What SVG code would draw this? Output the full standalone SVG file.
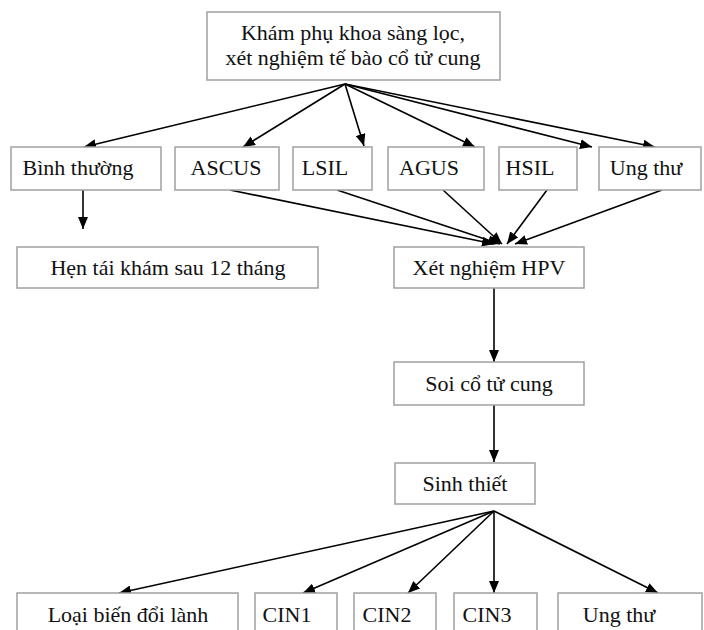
<svg xmlns="http://www.w3.org/2000/svg" width="704" height="630" viewBox="0 0 704 630">
<defs>
<marker id="ah" viewBox="0 0 12 10" refX="12" refY="5" markerWidth="12" markerHeight="10" markerUnits="userSpaceOnUse" orient="auto">
<path d="M0,0 L12,5 L0,10 z" fill="#000"/>
</marker>
<style>
.box{fill:#fff;stroke:#a0a0a0;stroke-width:1.5}
.t{font-family:"Liberation Serif","Times New Roman",serif;font-size:22px;fill:#111;text-anchor:middle}
.c{stroke:#000;stroke-width:1.6;fill:none;marker-end:url(#ah)}
</style>
</defs>
<rect width="704" height="630" fill="#fff"/>
<g id="connectors">
<line class="c" x1="345" y1="84" x2="84" y2="147"/>
<line class="c" x1="345" y1="84" x2="243" y2="147"/>
<line class="c" x1="345" y1="84" x2="364" y2="146"/>
<line class="c" x1="345" y1="84" x2="475" y2="147"/>
<line class="c" x1="345" y1="84" x2="592" y2="147"/>
<line class="c" x1="345" y1="84" x2="655" y2="147"/>
<line class="c" x1="83" y1="190" x2="83" y2="229"/>
<line class="c" x1="230" y1="190" x2="494" y2="244"/>
<line class="c" x1="337" y1="190" x2="500" y2="244"/>
<line class="c" x1="443" y1="190" x2="502" y2="244"/>
<line class="c" x1="547" y1="190" x2="507" y2="244"/>
<line class="c" x1="662" y1="190" x2="515" y2="244"/>
<line class="c" x1="494" y1="288" x2="494" y2="362"/>
<line class="c" x1="494" y1="405" x2="494" y2="462"/>
<line class="c" x1="494" y1="511" x2="119" y2="593"/>
<line class="c" x1="494" y1="511" x2="303" y2="593"/>
<line class="c" x1="494" y1="511" x2="408" y2="593"/>
<line class="c" x1="494" y1="511" x2="494" y2="593"/>
<line class="c" x1="494" y1="511" x2="658" y2="593"/>
</g>
<g id="n-kham"><rect class="box" x="207" y="12" width="293" height="68"/><text class="t" x="353" y="40">Khám phụ khoa sàng lọc,</text><text class="t" x="353" y="65">xét nghiệm tế bào cổ tử cung</text></g>
<g id="n-binhthuong"><rect class="box" x="11" y="147" width="150" height="43"/><text class="t" x="78" y="175">Bình thường</text></g>
<g id="n-ascus"><rect class="box" x="175" y="147" width="104" height="43"/><text class="t" x="226" y="175">ASCUS</text></g>
<g id="n-lsil"><rect class="box" x="293" y="147" width="79" height="43"/><text class="t" x="325" y="175">LSIL</text></g>
<g id="n-agus"><rect class="box" x="388" y="147" width="96" height="43"/><text class="t" x="429" y="175">AGUS</text></g>
<g id="n-hsil"><rect class="box" x="499" y="147" width="78" height="43"/><text class="t" x="530" y="175">HSIL</text></g>
<g id="n-ungthu1"><rect class="box" x="599" y="147" width="102" height="43"/><text class="t" x="646" y="175">Ung thư</text></g>
<g id="n-hen"><rect class="box" x="17" y="247" width="301" height="41"/><text class="t" x="168" y="275">Hẹn tái khám sau 12 tháng</text></g>
<g id="n-hpv"><rect class="box" x="394" y="247" width="190" height="41"/><text class="t" x="489" y="275">Xét nghiệm HPV</text></g>
<g id="n-soi"><rect class="box" x="394" y="362" width="190" height="43"/><text class="t" x="489" y="391">Soi cổ tử cung</text></g>
<g id="n-sinhthiet"><rect class="box" x="395" y="463" width="140" height="41"/><text class="t" x="465" y="491">Sinh thiết</text></g>
<g id="n-loai"><rect class="box" x="17" y="593" width="221" height="50"/><text class="t" x="128" y="622">Loại biến đổi lành</text></g>
<g id="n-cin1"><rect class="box" x="255" y="593" width="82" height="50"/><text class="t" x="287" y="622">CIN1</text></g>
<g id="n-cin2"><rect class="box" x="354" y="593" width="82" height="50"/><text class="t" x="387" y="622">CIN2</text></g>
<g id="n-cin3"><rect class="box" x="454" y="593" width="83" height="50"/><text class="t" x="487" y="622">CIN3</text></g>
<g id="n-ungthu2"><rect class="box" x="558" y="593" width="144" height="50"/><text class="t" x="619" y="622">Ung thư</text></g>
</svg>
